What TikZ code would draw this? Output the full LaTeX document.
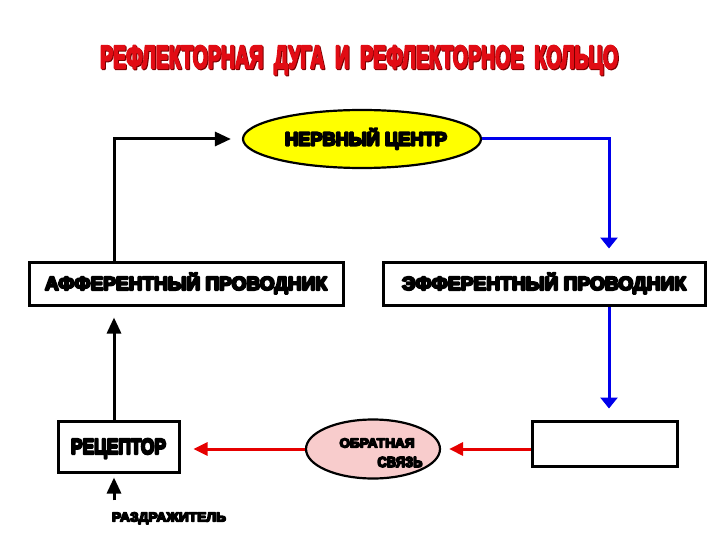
\documentclass[tikz,border=0pt]{standalone}
\usepackage{fontspec}
\usepackage{graphicx}
\newfontfamily\heavy{Liberation Sans}
\usetikzlibrary{arrows.meta,shapes.geometric}
\definecolor{titlered}{RGB}{225,12,20}
\definecolor{titleshadow}{RGB}{120,0,0}
\definecolor{nervefill}{RGB}{255,255,0}
\definecolor{fbfill}{RGB}{248,204,204}
\definecolor{effblue}{RGB}{0,0,235}
\definecolor{fbred}{RGB}{230,0,0}
\newcommand\strokew{1.1}
\newcommand\capfit[3]{\resizebox{#1pt}{#2pt}{\special{pdf:code q 2 Tr \strokew\space w 1 j}\heavy\bfseries\smash{#3}\vphantom{Н}\special{pdf:code Q}}}
\tikzset{
  box/.style={draw=black, line width=3pt, fill=white, inner sep=0pt},
  oval/.style={ellipse, draw=black, line width=2.2pt, inner sep=0pt},
  lbl/.style={inner sep=0pt},
  conn/.style={line width=3pt},
  blk/.style={conn, black, -{Triangle[length=16pt,width=14pt]}},
  blu/.style={conn, effblue, -{Triangle[length=11pt,width=17pt]}},
  rd/.style={conn, fbred, -{Triangle[length=14pt,width=13pt]}}
}
\begin{document}
\begin{tikzpicture}[x=1pt,y=-1pt]
\useasboundingbox[fill=white] (0,0) rectangle (720,540);
% title
\renewcommand\strokew{0.7}
\node[lbl, text=titleshadow] (titlesh) at (360,58) {\capfit{518}{22}{РЕФЛЕКТОРНАЯ\ \ ДУГА\ \ И\ \ РЕФЛЕКТОРНОЕ\ \ КОЛЬЦО}};
\node[lbl, text=titlered] (title) at (359,57) {\capfit{518}{22}{РЕФЛЕКТОРНАЯ\ \ ДУГА\ \ И\ \ РЕФЛЕКТОРНОЕ\ \ КОЛЬЦО}};
\renewcommand\strokew{1.1}
% nodes
\node[oval, fill=nervefill, minimum width=238pt, minimum height=58pt] (nerve) at (362,139) {};
\node[lbl] (nervetxt) at (366,139) {\capfit{162}{13}{НЕРВНЫЙ ЦЕНТР}};
\node[box, minimum width=314pt, minimum height=43pt] (aff) at (186,283.5) {\capfit{282}{13}{АФФЕРЕНТНЫЙ ПРОВОДНИК}};
\node[box, minimum width=322pt, minimum height=43pt] (eff) at (544,283.5) {\capfit{284}{13}{ЭФФЕРЕНТНЫЙ ПРОВОДНИК}};
\node[box, minimum width=121pt, minimum height=51pt] (rec) at (118.5,446.5) {\capfit{95}{15}{РЕЦЕПТОР}};
\node[box, minimum width=145pt, minimum height=45pt] (effector) at (604.5,443.5) {};
\node[oval, fill=fbfill, minimum width=134pt, minimum height=59pt] (fb) at (373,449) {};
\node[lbl] (fb1) at (377,443) {\capfit{75}{9}{ОБРАТНАЯ}};
\node[lbl] (fb2) at (400,462) {\capfit{45}{10}{СВЯЗЬ}};
\node[lbl] (stim) at (169,517) {\capfit{114}{9}{РАЗДРАЖИТЕЛЬ}};
\coordinate (lx) at (114,0);
\coordinate (bx) at (609,0);
% connectors
\draw[blk, shorten >=11pt] (aff.north -| lx) |- (nerve.west);
\draw[blu, shorten >=12pt] (nerve.east) -| (eff.north -| bx);
\draw[blu, shorten >=11pt] (eff.south -| bx) -- (effector.north -| bx);
\draw[rd, shorten >=8pt] (effector.west |- fb) -- (fb.east);
\draw[rd, shorten >=13pt] (fb.west) -- (rec.east |- fb.west);
\draw[blk, shorten >=11pt] (rec.north -| lx) -- (aff.south -| lx);
\draw[blk, shorten <=12pt, shorten >=4pt] (stim.north -| lx) -- (rec.south -| lx);
\end{tikzpicture}
\end{document}
